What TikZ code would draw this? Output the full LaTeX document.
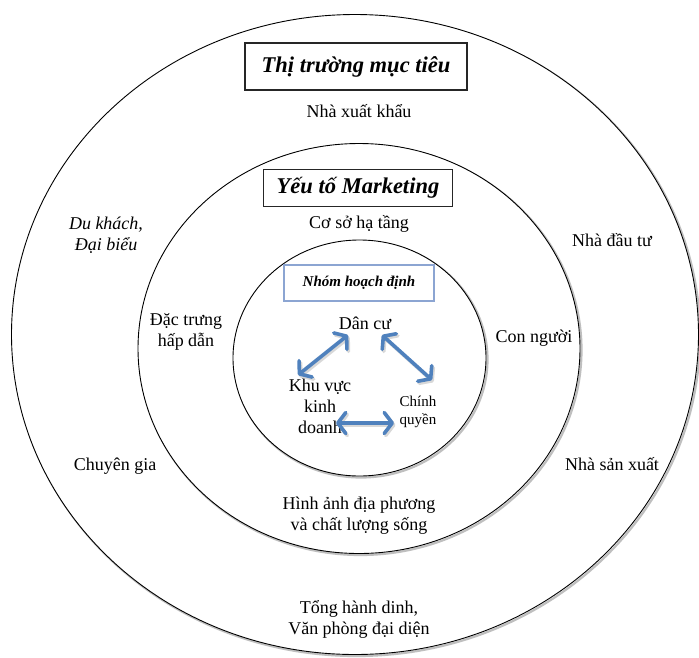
\documentclass[tikz,border=0pt]{standalone}
\usepackage{fontspec}
\setmainfont{Liberation Serif}
\usetikzlibrary{arrows.meta}
\definecolor{arrowblue}{RGB}{79,129,189}
\definecolor{boxblue}{RGB}{140,165,210}
\begin{document}
\begin{tikzpicture}[x=1pt,y=-1pt,
  ring/.style={draw=black, line width=0.9pt, fill=white},
  ringshadow/.style={draw=black!25, line width=2.2pt},
  lbl/.style={font=\fontsize{18}{21}\selectfont, align=center, inner sep=0pt},
  ilbl/.style={lbl, font=\fontsize{18}{21}\selectfont\itshape},
  slbl/.style={lbl, font=\fontsize{15}{17.6}\selectfont},
  titlebox/.style={draw=black!85, line width=1.2pt, fill=white, align=center,
    font=\fontsize{22.5}{26}\selectfont\bfseries\itshape},
  groupbox/.style={draw=boxblue, line width=1.1pt, fill=white, align=center,
    font=\fontsize{15}{18}\selectfont\bfseries\itshape},
  link/.style={draw=arrowblue, line width=3.6pt,
    {Straight Barb[length=8pt,width=21pt,round]}-{Straight Barb[length=8pt,width=21pt,round]}},
  linkshadow/.style={draw=black!30, opacity=0.5, line width=3.6pt,
    {Straight Barb[length=8pt,width=21pt,round]}-{Straight Barb[length=8pt,width=21pt,round]}}
]
\useasboundingbox (0,0) rectangle (699,657);
\fill[white] (0,0) rectangle (699,657);

% rings
\draw[ringshadow] (356.5,336) ellipse [x radius=343.5pt, y radius=320pt];
\draw[ring] (355,334.5) ellipse [x radius=343.5pt, y radius=320pt];
\draw[ringshadow] (360.5,350) ellipse [x radius=221pt, y radius=205pt];
\draw[ring] (359,348.5) ellipse [x radius=221pt, y radius=205pt];
\draw[ringshadow] (361,359.5) ellipse [x radius=126.5pt, y radius=118pt];
\draw[ring] (359.5,358) ellipse [x radius=126.5pt, y radius=118pt];

% boxes
\node[titlebox, minimum width=222pt, minimum height=47pt] (tt) at (356,66.5) {Thị trường mục tiêu};
\node[titlebox, minimum width=189.5pt, minimum height=36.5pt] (mk) at (358,188) {Yếu tố Marketing};
\node[groupbox, minimum width=150pt, minimum height=36pt] (nh) at (359,283) {Nhóm hoạch định};

% labels
\node[lbl] (xk) at (359,111) {Nhà xuất khẩu};
\node[lbl] (csht) at (359,224) {Cơ sở hạ tầng};
\node[ilbl] (dk) at (106,235.5) {Du khách,\\Đại biểu};
\node[lbl] (ndt) at (612,240) {Nhà đầu tư};
\node[lbl] (dt) at (186,332) {Đặc trưng\\hấp dẫn};
\node[lbl] (cn) at (534,338) {Con người};
\node[lbl] (cg) at (115,466) {Chuyên gia};
\node[lbl] (nsx) at (612,464) {Nhà sản xuất};
\node[lbl] (ha) at (359,515.5) {Hình ảnh địa phương\\và chất lượng sống};
\node[lbl] (th) at (359,619.5) {Tổng hành dinh,\\Văn phòng đại diện};

\node[lbl] (dc) at (365,323) {Dân cư};
\node[lbl] (kv) at (320,406) {Khu vực\\kinh\\doanh};
\node[slbl] (cq) at (418,412) {Chính\\quyền};

% arrow end points
\coordinate (a1s) at (348,335);
\coordinate (a1e) at (298,375);
\coordinate (a2s) at (382,335);
\coordinate (a2e) at (432,380);
\coordinate (a3s) at (336,423);
\coordinate (a3e) at (394,423);

\draw[linkshadow] ([shift={(1.5,2)}]a1s) -- ([shift={(1.5,2)}]a1e);
\draw[linkshadow] ([shift={(1.5,2)}]a2s) -- ([shift={(1.5,2)}]a2e);
\draw[linkshadow] ([shift={(1.5,2)}]a3s) -- ([shift={(1.5,2)}]a3e);
\draw[link] (a1s) -- (a1e);
\draw[link] (a2s) -- (a2e);
\draw[link] (a3s) -- (a3e);
\end{tikzpicture}
\end{document}
